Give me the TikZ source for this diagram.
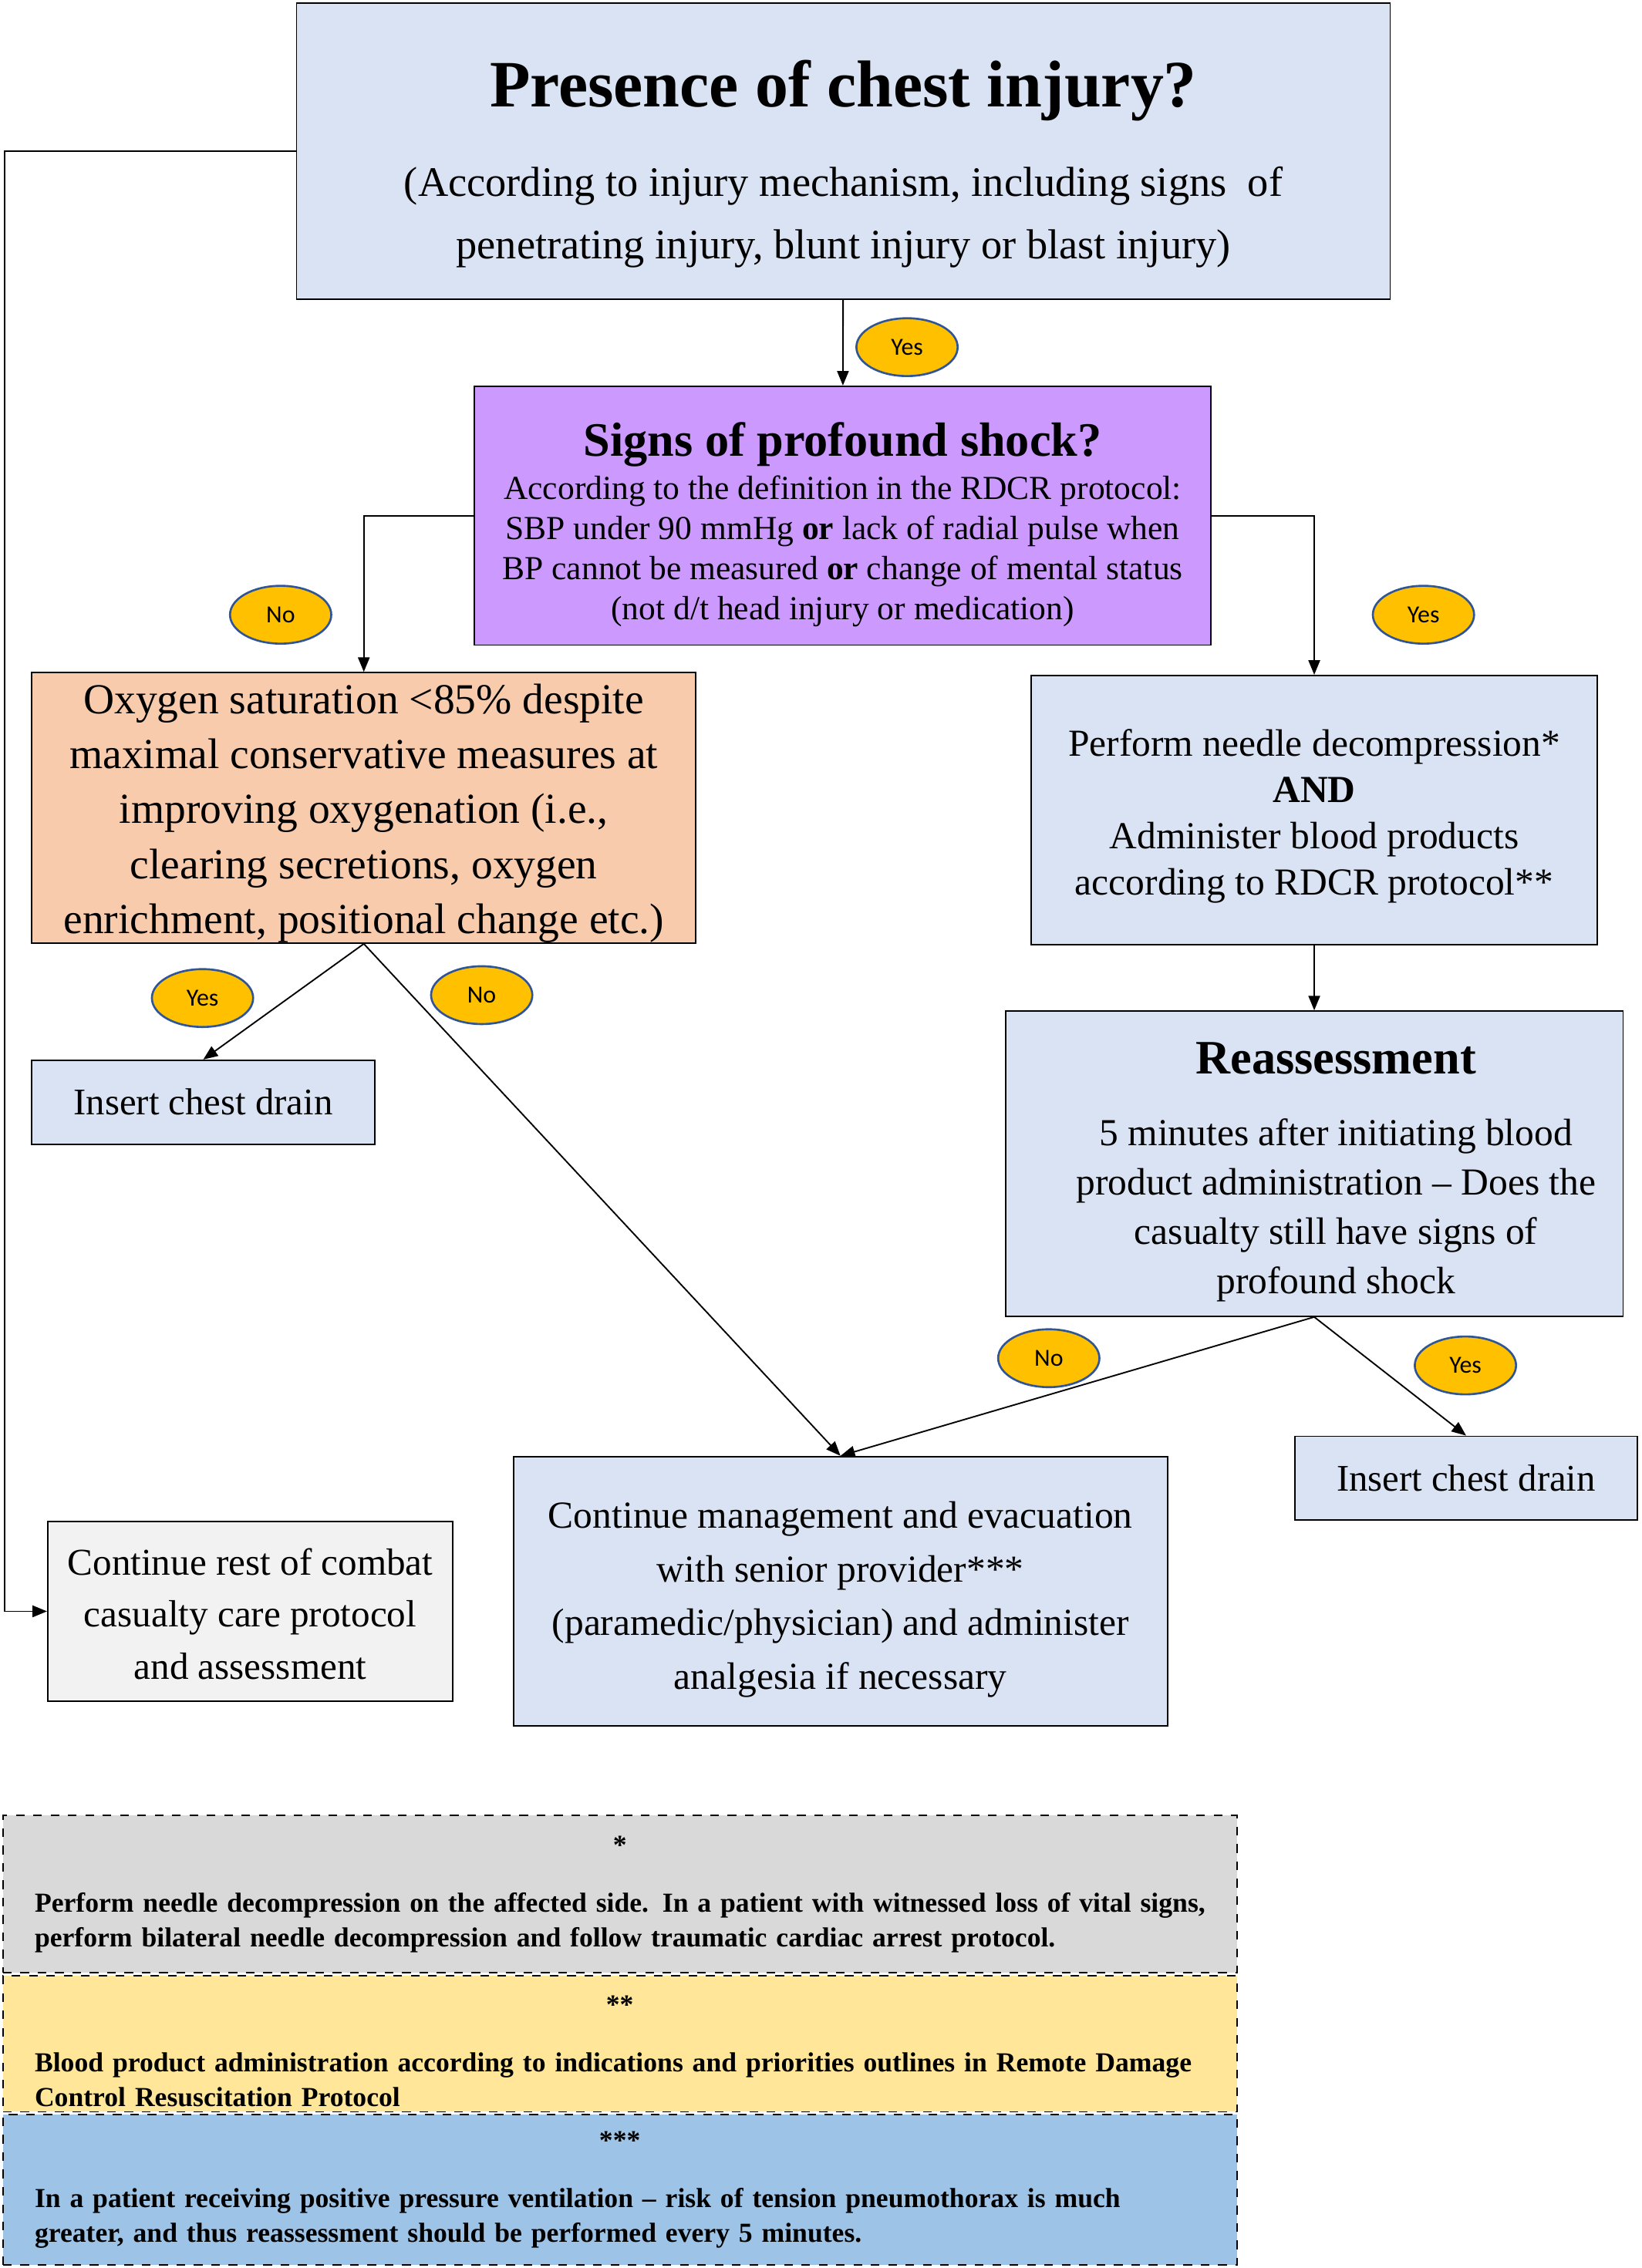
\documentclass[tikz,border=0pt]{standalone}
\usepackage{fontspec}
\setmainfont{Liberation Serif}
\newfontfamily\yesnofont{Carlito}
\usetikzlibrary{arrows.meta,shapes.geometric}
\definecolor{boxblue}{HTML}{DAE3F3}
\definecolor{shockpurple}{HTML}{CC99FF}
\definecolor{oxyorange}{HTML}{F8CBAD}
\definecolor{restgray}{HTML}{F2F2F2}
\definecolor{notegray}{HTML}{D9D9D9}
\definecolor{noteyellow}{HTML}{FFE699}
\definecolor{noteblue}{HTML}{9DC3E6}
\definecolor{ovalgold}{HTML}{FFC000}
\definecolor{ovalrim}{HTML}{2F5597}
\newcommand{\fsz}[2]{\fontsize{#1}{#2}\selectfont}
\tikzset{
  stepbox/.style={draw=black, line width=0.5pt, align=center, inner sep=0pt},
  notebox/.style={draw=black, dashed, line width=0.5pt, align=left, inner sep=0pt,
    text width=404.5pt, font=\fsz{9.5}{12}\bfseries},
  answer/.style={ellipse, draw=ovalrim, line width=0.7pt, fill=ovalgold,
    minimum width=35pt, minimum height=20pt, inner sep=0pt, font=\yesnofont\fsz{8.5}{10}},
  arr/.style={line width=0.5pt, -{Triangle[length=5pt,width=4pt]}},
}
\begin{document}
\begin{tikzpicture}[x=0.5pt,y=-0.5pt]
\useasboundingbox (0,0) rectangle (1135,1568);
%
\node[stepbox, fill=boxblue, minimum width=378pt, minimum height=102.5pt, font=\fsz{14.5}{21.5}] (chest) at (583,104.5)
  {{\fsz{22.9}{26}\bfseries\rule{0pt}{25pt}Presence of chest injury?}\\[9.5pt]
   (According to injury mechanism, including signs\ \ of\\
   penetrating injury, blunt injury or blast injury)};
\node[stepbox, fill=shockpurple, minimum width=254.5pt, minimum height=89.5pt, font=\fsz{11.6}{13.9}] (shock) at (582.5,356.5)
  {{\fsz{16.6}{18}\bfseries\rule{0pt}{18pt}Signs of profound shock?}\\[1pt]
   According to the definition in the RDCR protocol:\\
   SBP under 90 mmHg \textbf{or} lack of radial pulse when\\
   BP cannot be measured \textbf{or} change of mental status\\
   (not d/t head injury or medication)};
\node[stepbox, fill=oxyorange, minimum width=229.5pt, minimum height=93.5pt, font=\fsz{14.8}{19}] (oxy) at (251.5,558.5)
  {\rule{0pt}{14pt}Oxygen saturation <85\% despite\\
   maximal conservative measures at\\
   improving oxygenation (i.e.,\\
   clearing secretions, oxygen\\
   enrichment, positional change etc.)};
\node[stepbox, fill=boxblue, minimum width=195.5pt, minimum height=93pt, font=\fsz{13.2}{16}] (needle) at (908.5,560)
  {\rule{0pt}{13.5pt}Perform needle decompression*\\
   \textbf{AND}\\
   Administer blood products\\
   according to RDCR protocol**};
\node[stepbox, fill=boxblue, minimum width=213.5pt, minimum height=105.5pt, font=\fsz{13.2}{17}] (reass) at (908.5,804.5)
  {\hspace*{15pt}{\fsz{16.6}{18}\bfseries\rule{0pt}{16.5pt}Reassessment}\\[8pt]
   \hspace*{15pt}5 minutes after initiating blood\\
   \hspace*{15pt}product administration -- Does the\\
   \hspace*{15pt}casualty still have signs of\\
   \hspace*{15pt}profound shock};
\node[stepbox, fill=boxblue, minimum width=118.5pt, minimum height=29pt, font=\fsz{13}{16}] (drainL) at (140.5,762)
  {Insert chest drain};
\node[stepbox, fill=boxblue, minimum width=118.5pt, minimum height=29pt, font=\fsz{13}{16}] (drainR) at (1013.5,1022)
  {Insert chest drain};
\node[stepbox, fill=boxblue, minimum width=226pt, minimum height=93pt, font=\fsz{13.2}{18.5}] (evac) at (581,1100)
  {\rule{0pt}{15pt}Continue management and evacuation\\
   with senior provider***\\
   (paramedic/physician) and administer\\
   analgesia if necessary};
\node[stepbox, fill=restgray, minimum width=140pt, minimum height=62pt, font=\fsz{13.1}{18}] (rest) at (173,1114)
  {\rule{0pt}{11pt}Continue rest of combat\\
   casualty care protocol\\
   and assessment};
%
\node[notebox, fill=notegray, minimum width=426.5pt, minimum height=54.5pt] (note1) at (428.5,1309.5)
  {{\centering *\par}\vspace{8pt}
   \mbox{Perform needle decompression on the affected side. In a patient with witnessed loss of vital signs,}\\
   perform bilateral needle decompression and follow traumatic cardiac arrest protocol.};
\node[notebox, fill=noteyellow, minimum width=426.5pt, minimum height=47pt] (note2) at (428.5,1413)
  {{\centering\rule{0pt}{11.5pt}**\par}\vspace{8pt}
   \mbox{Blood product administration according to indications and priorities outlines in Remote Damage}\\
   Control Resuscitation Protocol};
\node[notebox, fill=noteblue, minimum width=426.5pt, minimum height=52pt] (note3) at (428.5,1514)
  {{\centering ***\par}\vspace{8pt}
   In a patient receiving positive pressure ventilation -- risk of tension pneumothorax is much\\
   greater, and thus reassessment should be performed every 5 minutes.};
%
\coordinate (rail) at (3,104.5);
\draw[arr] (chest.west) -- (rail) |- (rest.west);
\draw[arr] (chest) -- (shock);
\draw[arr] (shock.west) -| (oxy.north);
\draw[arr] (shock.east) -| (needle.north);
\draw[arr] (oxy.south) -- (drainL.north);
\draw[arr] (oxy.south) -- (evac.north);
\draw[arr] (needle) -- (reass);
\draw[arr] (reass.south) -- (evac.north);
\draw[arr] (reass.south) -- (drainR.north);
%
\node[answer] (yes1) at (627,240) {Yes};
\node[answer] (no1) at (194,425) {No};
\node[answer] (yes2) at (984,425) {Yes};
\node[answer] (yes3) at (140,690) {Yes};
\node[answer] (no2) at (333,688) {No};
\node[answer] (no3) at (725,939) {No};
\node[answer] (yes4) at (1013,944) {Yes};
\end{tikzpicture}
\end{document}
